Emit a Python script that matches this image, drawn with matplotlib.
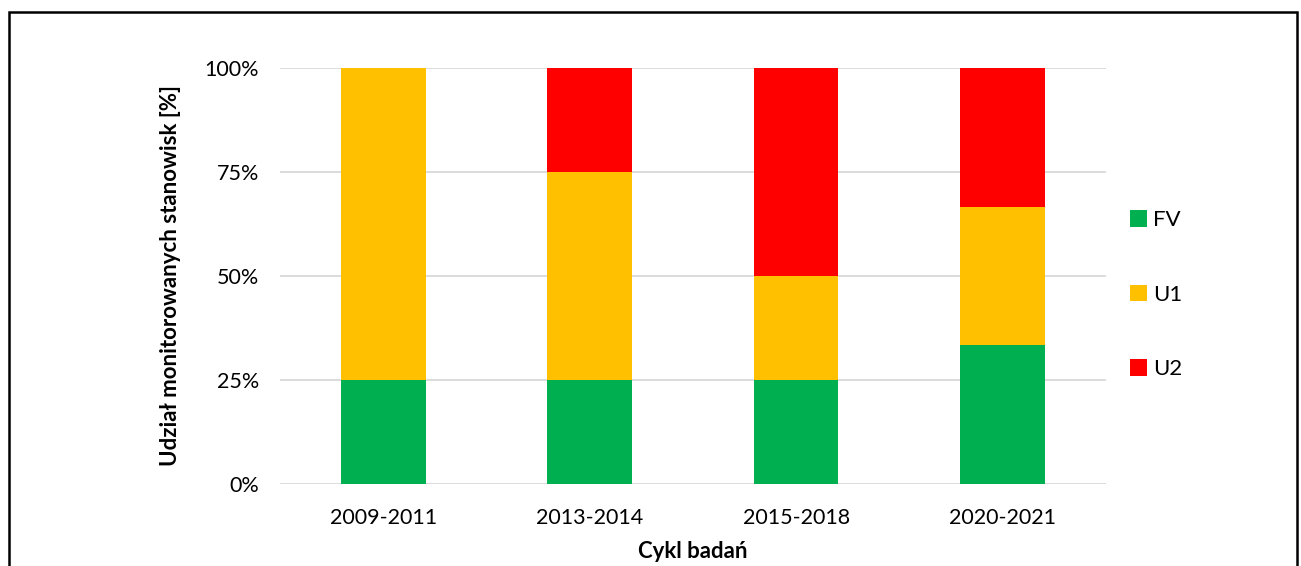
import matplotlib
matplotlib.use("Agg")
import matplotlib.pyplot as plt
from matplotlib.patches import Rectangle
from matplotlib.ticker import PercentFormatter
import numpy as np

cycles = ["2009-2011", "2013-2014", "2015-2018", "2020-2021"]
fv = [25, 25, 25, 33.33]
u1 = [75, 50, 25, 33.33]
u2 = [0, 25, 50, 33.34]

plt.rcParams['font.family'] = ['Lato', 'DejaVu Sans']

fig = plt.figure(figsize=(13.01, 5.66), dpi=100)
ax = fig.add_axes([0.2152, 0.1449, 0.6347, 0.735])

x = np.arange(len(cycles))
w = 0.41
ax.bar(x, fv, w, color="#00b050", label="FV", zorder=3)
ax.bar(x, u1, w, bottom=fv, color="#ffc000", label="U1", zorder=3)
ax.bar(x, u2, w, bottom=np.add(fv, u1), color="#ff0000", label="U2", zorder=3)

ax.set_xlim(-0.5, 3.5)
ax.set_ylim(0, 100)
ax.set_yticks([0, 25, 50, 75, 100])
ax.yaxis.set_major_formatter(PercentFormatter(decimals=0))
ax.grid(axis="y", color="#d9d9d9", linewidth=1.3, zorder=0)
for s in ax.spines.values():
    s.set_visible(False)
ax.tick_params(length=0, labelsize=15.5)
ax.tick_params(axis="y", pad=15)
ax.tick_params(axis="x", pad=17)
ax.set_xticks(x)
ax.set_xticklabels(cycles)

ax.set_xlabel("Cykl badań", fontsize=16, fontweight="bold", labelpad=10)
ax.set_ylabel("Udział monitorowanych stanowisk [%]", fontsize=16,
              fontweight="bold", labelpad=17)

ax.legend(loc="center left", bbox_to_anchor=(1.005, 0.455), frameon=False,
          fontsize=16, handlelength=0.75, handleheight=0.75, handletextpad=0.3,
          labelspacing=2.45)

fig.patches.append(Rectangle((9 / 1301, -0.05), 1288 / 1301, 1 - 12 / 566 + 0.05,
                             transform=fig.transFigure, fill=False,
                             edgecolor="black", linewidth=1.8))

fig.savefig("out.png", dpi=100)
